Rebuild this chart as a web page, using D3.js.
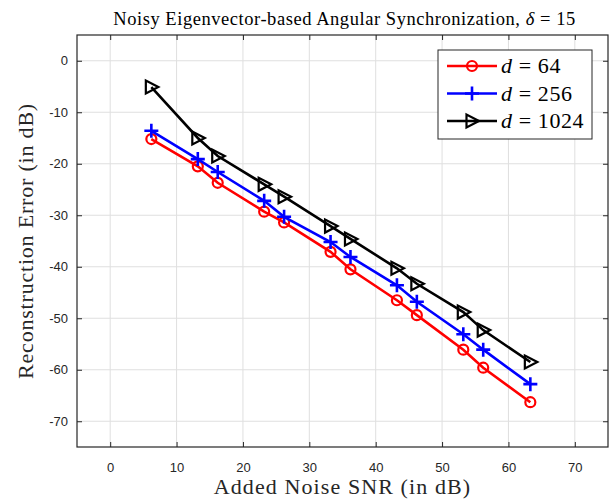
<!DOCTYPE html>
<html><head><meta charset="utf-8">
<script src="https://cdn.jsdelivr.net/npm/d3@7"></script>
<style>
html,body{margin:0;padding:0;background:#fff;}
svg{display:block;}
</style></head>
<body>
<script>
const snr = [6.2, 13.2, 16.2, 23.2, 26.2, 33.2, 36.2, 43.2, 46.2, 53.2, 56.2, 63.3];
const err64 = [-15.2, -20.5, -23.7, -29.3, -31.4, -37.1, -40.5, -46.5, -49.4, -56.1, -59.6, -66.3];
const err256 = [-13.6, -19.1, -21.6, -27.2, -30.3, -35.2, -38.1, -43.6, -46.8, -53.1, -56.1, -62.8];
const err1024 = [-5.1, -15.0, -18.5, -24.0, -26.4, -32.1, -34.6, -40.3, -43.3, -48.8, -52.3, -58.5];
const seriesNames = ["64", "256", "1024"];
const xTicks = [0, 10, 20, 30, 40, 50, 60, 70];
const yTicks = [0, -10, -20, -30, -40, -50, -60, -70];

const W = 613, H = 500;
const m = {left: 77, top: 35, right: 5, bottom: 53};
const pw = W - m.left - m.right, ph = H - m.top - m.bottom;
const axisColor = "#262626";
const serif = "'Liberation Serif','DejaVu Serif',serif";
const sans = "'Liberation Sans',Arial,Helvetica,sans-serif";

const svg = d3.select("body").append("svg").attr("width", W).attr("height", H);
const g = svg.append("g").attr("transform", `translate(${m.left},${m.top})`);

const x = d3.scaleLinear().domain([-5, 75]).range([0, pw]);
const y = d3.scaleLinear().domain([-75, 5]).range([ph, 0]);

// grid
g.append("g").selectAll("line").data(xTicks).join("line")
  .attr("x1", d => x(d)).attr("x2", d => x(d)).attr("y1", 0).attr("y2", ph)
  .attr("stroke", "#dfdfdf").attr("stroke-width", 1);
g.append("g").selectAll("line").data(yTicks).join("line")
  .attr("y1", d => y(d)).attr("y2", d => y(d)).attr("x1", 0).attr("x2", pw)
  .attr("stroke", "#dfdfdf").attr("stroke-width", 1);

// axes
const tl = 5;
const fmt = d => String(d);
const xAxB = g.append("g").attr("transform", `translate(0,${ph})`)
  .call(d3.axisBottom(x).tickValues(xTicks).tickSizeInner(-tl).tickSizeOuter(0).tickPadding(16).tickFormat(fmt));
const xAxT = g.append("g")
  .call(d3.axisTop(x).tickValues(xTicks).tickSizeInner(-tl).tickSizeOuter(0).tickFormat(""));
const yAxL = g.append("g")
  .call(d3.axisLeft(y).tickValues(yTicks).tickSizeInner(-tl).tickSizeOuter(0).tickPadding(9).tickFormat(fmt));
const yAxR = g.append("g").attr("transform", `translate(${pw},0)`)
  .call(d3.axisRight(y).tickValues(yTicks).tickSizeInner(-tl).tickSizeOuter(0).tickFormat(""));
[xAxB, xAxT, yAxL, yAxR].forEach(a => {
  a.select(".domain").remove();
  a.selectAll("line").attr("stroke", axisColor);
  a.selectAll("text").attr("fill", axisColor).attr("font-family", sans).attr("font-size", 13);
});
g.append("rect").attr("x", 0).attr("y", 0).attr("width", pw).attr("height", ph)
  .attr("fill", "none").attr("stroke", axisColor).attr("stroke-width", 1.2);

// series
const colors = ["#ff0000", "#0000ff", "#000000"];
const data = [err64, err256, err1024].map((vals, i) => ({
  name: seriesNames[i], color: colors[i], pts: snr.map((s, j) => [s, vals[j]])
}));
const line = d3.line().x(d => x(d[0])).y(d => y(d[1]));

function marker(sel, type, color) {
  if (type === 0) {
    sel.append("circle").attr("r", 5).attr("fill", "none").attr("stroke", color).attr("stroke-width", 2.2);
  } else if (type === 1) {
    sel.append("path").attr("d", "M-7,0H7M0,-7V7").attr("stroke", color).attr("stroke-width", 2.6).attr("fill", "none");
  } else {
    sel.append("path").attr("d", "M7,0L-5.5,-6.5L-5.5,6.5Z").attr("stroke", color).attr("stroke-width", 2.2)
      .attr("fill", "none").attr("stroke-linejoin", "miter");
  }
}

data.forEach((s, i) => {
  g.append("path").datum(s.pts).attr("d", line).attr("fill", "none")
    .attr("stroke", s.color).attr("stroke-width", 2.6);
  g.append("g").selectAll("g").data(s.pts).join("g")
    .attr("transform", d => `translate(${x(d[0])},${y(d[1])})`)
    .each(function() { marker(d3.select(this), i, s.color); });
});

// legend
const lg = svg.append("g").attr("transform", "translate(438,50)");
lg.append("rect").attr("width", 154).attr("height", 89).attr("fill", "#fff")
  .attr("stroke", axisColor).attr("stroke-width", 1);
data.forEach((s, i) => {
  const ry = 16 + i * 27.5;
  const r = lg.append("g").attr("transform", `translate(0,${ry})`);
  r.append("line").attr("x1", 9).attr("x2", 59).attr("stroke", s.color).attr("stroke-width", 2.6);
  const mk = r.append("g").attr("transform", "translate(34,0)");
  marker(mk, i, s.color);
  const t = r.append("text").attr("x", 63).attr("y", 7).attr("font-family", serif)
    .attr("font-size", 22).attr("letter-spacing", 0.6).attr("fill", "#000");
  t.append("tspan").attr("font-style", "italic").text("d");
  t.append("tspan").text(" = " + s.name);
});

// title
const title = svg.append("text").attr("x", m.left + pw / 2 + 2).attr("y", 25).attr("text-anchor", "middle")
  .attr("font-family", serif).attr("font-size", 18.5).attr("letter-spacing", 0.55).attr("fill", "#000");
title.append("tspan").text("Noisy Eigenvector-based Angular Synchronization, ");
title.append("tspan").attr("font-style", "italic").text("δ");
title.append("tspan").text(" = 15");

// axis labels
svg.append("text").attr("x", m.left + pw / 2).attr("y", 494).attr("text-anchor", "middle")
  .attr("font-family", serif).attr("font-size", 22).attr("letter-spacing", 1.1).attr("fill", axisColor)
  .text("Added Noise SNR (in dB)");
svg.append("text").attr("transform", `translate(33,${m.top + ph / 2}) rotate(-90)`)
  .attr("text-anchor", "middle").attr("font-family", serif).attr("font-size", 22).attr("letter-spacing", 0.8).attr("fill", axisColor)
  .text("Reconstruction Error (in dB)");
</script>
</body></html>
